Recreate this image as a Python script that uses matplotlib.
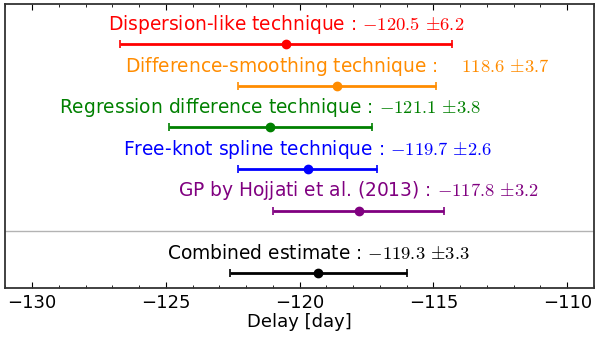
import numpy as np
import matplotlib.pyplot as plt
from matplotlib.ticker import MultipleLocator

plt.rcParams['mathtext.fontset'] = 'cm'
plt.rcParams['font.size'] = 13

names = ['Dispersion-like technique :', 'Difference-smoothing technique :   ',
         'Regression difference technique :', 'Free-knot spline technique :',
         'GP by Hojjati et al. (2013) :', 'Combined estimate :']
values_txt = [r'$-120.5$ $\pm6.2$', r'$118.6$ $\pm3.7$', r'$-121.1$ $\pm3.8$',
              r'$-119.7$ $\pm2.6$', r'$-117.8$ $\pm3.2$', r'$-119.3$ $\pm3.3$']
delay = np.array([-120.5, -118.6, -121.1, -119.7, -117.8, -119.3])
err = np.array([6.2, 3.7, 3.8, 2.6, 3.2, 3.3])
colors = ['red', 'darkorange', 'green', 'blue', 'purple', 'black']

ypos = [6, 5, 4, 3, 2, 0.5]

fig = plt.figure(figsize=(6, 3.4), dpi=100)
ax = fig.add_axes([0.009, 0.153, 0.981, 0.835])

for i in range(len(delay)):
    ax.errorbar(delay[i], ypos[i], xerr=err[i], fmt='o', color=colors[i],
                ms=6, lw=2, capsize=3, capthick=1.2)
    # label centred over the point
    ax.text(delay[i], ypos[i] + 0.47, names[i] + ' ' + values_txt[i],
            color=colors[i], ha='center', va='center', fontsize=13.4)

ax.axhline(1.52, color='0.7', lw=1)

ax.set_xlim(-131, -109)
ax.set_ylim(0.14, 6.96)
ax.set_yticks([])
ax.xaxis.set_major_locator(MultipleLocator(5))
ax.xaxis.set_minor_locator(MultipleLocator(1))
ax.tick_params(axis='x', which='both', direction='in', top=True, labelsize=13)
ax.tick_params(axis='x', which='major', length=4.5, pad=4)
ax.tick_params(axis='x', which='minor', length=2.5)
for s in ax.spines.values():
    s.set_linewidth(1.3)
    s.set_color('0.2')
ax.set_xlabel('Delay [day]', fontsize=13, labelpad=1)

fig.savefig('out.png')
